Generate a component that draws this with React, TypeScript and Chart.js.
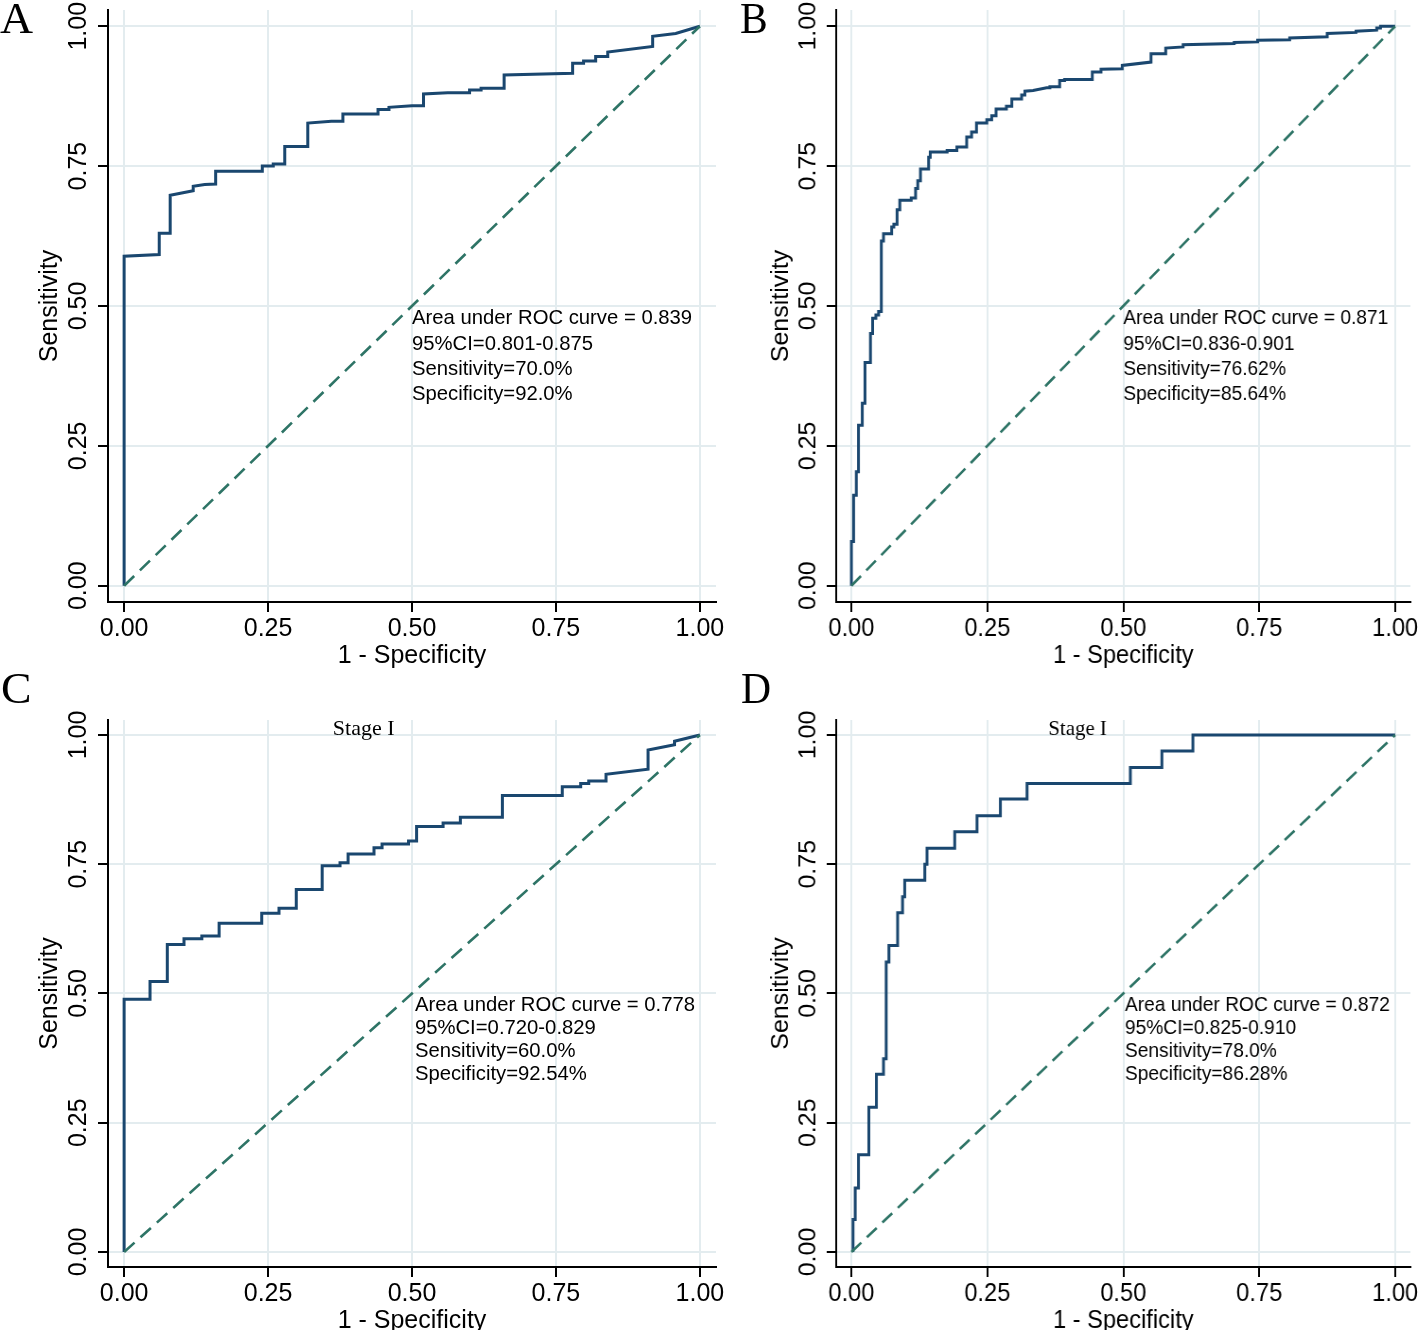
import React, { useEffect, useRef } from "react";
import { Chart, registerables } from "chart.js";

Chart.register(...registerables);

// ---- axis ticks & titles ----
const tickValues = [0, 0.25, 0.5, 0.75, 1];
const tickLabels = ["0.00", "0.25", "0.50", "0.75", "1.00"];
const xTitle = "1 - Specificity";
const yTitle = "Sensitivity";

// ---- reference (chance) line ----
const diagX = [0, 1];
const diagY = [0, 1];

// ---- Panel A ROC vertices ----
const rocAX = [0, 0, 0.061, 0.061, 0.08, 0.08, 0.1, 0.12, 0.12, 0.14, 0.159, 0.159, 0.24, 0.24, 0.259, 0.259, 0.279, 0.279, 0.319, 0.319, 0.36, 0.38, 0.38, 0.441, 0.441, 0.46, 0.46, 0.5, 0.52, 0.52, 0.562, 0.6, 0.6, 0.62, 0.62, 0.66, 0.66, 0.779, 0.779, 0.798, 0.798, 0.819, 0.819, 0.84, 0.84, 0.918, 0.918, 0.958, 1];
const rocAY = [0, 0.589, 0.592, 0.63, 0.63, 0.698, 0.702, 0.706, 0.714, 0.717, 0.718, 0.741, 0.741, 0.75, 0.75, 0.754, 0.754, 0.785, 0.785, 0.827, 0.83, 0.83, 0.843, 0.843, 0.851, 0.851, 0.855, 0.858, 0.858, 0.879, 0.881, 0.881, 0.886, 0.886, 0.889, 0.889, 0.913, 0.916, 0.934, 0.934, 0.938, 0.938, 0.946, 0.946, 0.954, 0.964, 0.982, 0.987, 1];

// ---- Panel B ROC vertices ----
const rocBX = [0, 0, 0.004, 0.004, 0.009, 0.009, 0.013, 0.013, 0.02, 0.02, 0.025, 0.025, 0.035, 0.035, 0.039, 0.039, 0.045, 0.045, 0.05, 0.05, 0.055, 0.055, 0.059, 0.059, 0.074, 0.074, 0.078, 0.078, 0.084, 0.084, 0.089, 0.089, 0.11, 0.11, 0.118, 0.118, 0.122, 0.122, 0.127, 0.127, 0.142, 0.142, 0.145, 0.145, 0.176, 0.176, 0.194, 0.194, 0.212, 0.212, 0.221, 0.221, 0.23, 0.23, 0.249, 0.249, 0.258, 0.258, 0.266, 0.266, 0.285, 0.285, 0.295, 0.295, 0.313, 0.313, 0.319, 0.319, 0.334, 0.359, 0.365, 0.365, 0.383, 0.383, 0.392, 0.392, 0.443, 0.443, 0.459, 0.459, 0.498, 0.498, 0.551, 0.551, 0.578, 0.578, 0.61, 0.61, 0.704, 0.704, 0.747, 0.747, 0.806, 0.806, 0.875, 0.875, 0.928, 0.928, 0.966, 0.966, 0.973, 0.973, 1];
const rocBY = [0, 0.079, 0.079, 0.162, 0.162, 0.204, 0.204, 0.287, 0.287, 0.326, 0.326, 0.399, 0.399, 0.451, 0.451, 0.478, 0.478, 0.484, 0.484, 0.49, 0.49, 0.616, 0.616, 0.629, 0.629, 0.641, 0.641, 0.646, 0.646, 0.672, 0.672, 0.689, 0.689, 0.693, 0.693, 0.71, 0.71, 0.724, 0.724, 0.745, 0.745, 0.766, 0.766, 0.775, 0.775, 0.778, 0.778, 0.784, 0.784, 0.802, 0.802, 0.811, 0.811, 0.827, 0.827, 0.833, 0.833, 0.84, 0.84, 0.852, 0.852, 0.857, 0.857, 0.87, 0.87, 0.877, 0.877, 0.884, 0.885, 0.89, 0.89, 0.892, 0.892, 0.903, 0.903, 0.905, 0.905, 0.918, 0.918, 0.923, 0.924, 0.93, 0.936, 0.951, 0.951, 0.961, 0.963, 0.967, 0.969, 0.971, 0.972, 0.975, 0.976, 0.979, 0.981, 0.987, 0.989, 0.991, 0.993, 0.997, 0.997, 1, 1];

// ---- Panel C ROC vertices ----
const rocCX = [0, 0, 0.045, 0.045, 0.075, 0.075, 0.104, 0.104, 0.135, 0.135, 0.165, 0.165, 0.239, 0.239, 0.269, 0.269, 0.299, 0.299, 0.344, 0.344, 0.375, 0.375, 0.389, 0.389, 0.434, 0.434, 0.448, 0.448, 0.494, 0.494, 0.508, 0.508, 0.554, 0.554, 0.584, 0.584, 0.657, 0.657, 0.761, 0.761, 0.793, 0.793, 0.807, 0.807, 0.837, 0.837, 0.91, 0.91, 0.956, 0.956, 1];
const rocCY = [0, 0.489, 0.489, 0.523, 0.523, 0.595, 0.595, 0.606, 0.606, 0.611, 0.611, 0.636, 0.636, 0.655, 0.655, 0.665, 0.665, 0.701, 0.701, 0.747, 0.747, 0.753, 0.753, 0.77, 0.77, 0.782, 0.782, 0.789, 0.789, 0.795, 0.795, 0.823, 0.823, 0.83, 0.83, 0.841, 0.841, 0.883, 0.883, 0.9, 0.9, 0.906, 0.906, 0.911, 0.911, 0.924, 0.934, 0.971, 0.981, 0.988, 1];

// ---- Panel D ROC vertices ----
const rocDX = [0.003, 0.003, 0.007, 0.007, 0.013, 0.013, 0.032, 0.032, 0.046, 0.046, 0.059, 0.059, 0.064, 0.064, 0.069, 0.069, 0.085, 0.085, 0.094, 0.094, 0.098, 0.098, 0.135, 0.135, 0.139, 0.139, 0.19, 0.19, 0.231, 0.231, 0.274, 0.274, 0.323, 0.323, 0.513, 0.513, 0.571, 0.571, 0.628, 0.628, 1];
const rocDY = [0, 0.063, 0.063, 0.124, 0.124, 0.188, 0.188, 0.28, 0.28, 0.344, 0.344, 0.374, 0.374, 0.561, 0.561, 0.593, 0.593, 0.656, 0.656, 0.687, 0.687, 0.719, 0.719, 0.75, 0.75, 0.781, 0.781, 0.813, 0.813, 0.844, 0.844, 0.876, 0.876, 0.906, 0.906, 0.937, 0.937, 0.969, 0.969, 1, 1];

// ---- annotation texts ----
const statsA = ["Area under ROC curve = 0.839", "95%CI=0.801-0.875", "Sensitivity=70.0%", "Specificity=92.0%"];
const statsB = ["Area under ROC curve = 0.871", "95%CI=0.836-0.901", "Sensitivity=76.62%", "Specificity=85.64%"];
const statsC = ["Area under ROC curve = 0.778", "95%CI=0.720-0.829", "Sensitivity=60.0%", "Specificity=92.54%"];
const statsD = ["Area under ROC curve = 0.872", "95%CI=0.825-0.910", "Sensitivity=78.0%", "Specificity=86.28%"];
const subtitleStage = "Stage I";

const SANS = '"Liberation Sans", Arial, Helvetica, sans-serif';
const SERIF = '"Liberation Serif", "Times New Roman", Times, serif';
const ROC_COLOR = "#1a476f";
const DIAG_COLOR = "#2e7466";
const GRID_COLOR = "#e3ecef";
const RIGHT_SQUEEZE = 0.946; // right-hand panels are horizontally compressed in the figure

type PanelProps = {
  rocX: number[];
  rocY: number[];
  stats: string[];
  statsX: number;
  subtitle?: string;
  left: number;
  right: number;
  top: number;
  bottom: number;
  k?: number;
};

const YW = 108; // y-axis box width
const XH = 78; // x-axis box height
const PT = 30; // canvas top padding
const PR = 25; // canvas right padding

function RocPanel(p: PanelProps) {
  const ref = useRef<HTMLCanvasElement>(null);
  const k = p.k ?? 1;
  const plotW = Math.round((p.right - p.left) / k);
  const cW = YW + plotW + PR;
  const cLeft = p.left - YW * k;
  const cTop = p.top - PT;
  const cH = p.bottom + XH - cTop;

  useEffect(() => {
    const canvas = ref.current;
    if (!canvas) return;
    const annot = {
      id: "annot",
      afterDatasetsDraw(chart: any) {
        const { ctx } = chart;
        const xs = chart.scales.x;
        const ys = chart.scales.y;
        ctx.save();
        ctx.fillStyle = "#000";
        ctx.font = `20.3px ${SANS}`;
        ctx.textAlign = "left";
        ctx.textBaseline = "middle";
        p.stats.forEach((t, i) => {
          ctx.fillText(t, xs.getPixelForValue(p.statsX), ys.getPixelForValue(0.477 - i * 0.0448));
        });
        if (p.subtitle) {
          ctx.font = `22px ${SERIF}`;
          ctx.textAlign = "center";
          ctx.fillText(p.subtitle, xs.getPixelForValue(0.416), ys.getPixelForValue(1.012));
        }
        ctx.restore();
      },
    };
    const setTicks = (scale: any) => {
      scale.ticks = tickValues.map((v) => ({ value: v }));
    };
    const chart = new Chart(canvas, {
      type: "line",
      data: {
        datasets: [
          {
            data: diagX.map((x, i) => ({ x, y: diagY[i] })),
            borderColor: DIAG_COLOR,
            borderWidth: 2.6,
            borderDash: [14, 8],
            pointRadius: 0,
            fill: false,
            tension: 0,
          },
          {
            data: p.rocX.map((x, i) => ({ x, y: p.rocY[i] })),
            borderColor: ROC_COLOR,
            borderWidth: 3,
            pointRadius: 0,
            fill: false,
            tension: 0,
          },
        ],
      },
      options: {
        responsive: false,
        animation: false,
        events: [],
        layout: { padding: { left: 0, top: PT, right: PR, bottom: 0 } },
        plugins: { legend: { display: false }, tooltip: { enabled: false } },
        scales: {
          x: {
            type: "linear",
            position: "bottom",
            min: -0.028,
            max: 1.028,
            afterBuildTicks: setTicks,
            afterFit: (s: any) => {
              s.height = XH;
            },
            grid: {
              color: GRID_COLOR,
              lineWidth: 2,
              drawTicks: true,
              tickLength: 10,
              tickColor: "#000",
              tickWidth: 2,
            },
            border: { display: true, color: "#000", width: 2 },
            ticks: {
              autoSkip: false,
              maxRotation: 0,
              minRotation: 0,
              padding: 2,
              color: "#000",
              font: { family: SANS, size: 25, lineHeight: 1.2 },
              callback: (_v: any, i: number) => tickLabels[i],
            },
            title: {
              display: true,
              text: xTitle,
              color: "#000",
              font: { family: SANS, size: 25, lineHeight: 1.2 },
              padding: { top: 0, bottom: 9 },
            },
          },
          y: {
            type: "linear",
            position: "left",
            min: -0.029,
            max: 1.029,
            afterBuildTicks: setTicks,
            afterFit: (s: any) => {
              s.width = YW;
            },
            grid: {
              color: GRID_COLOR,
              lineWidth: 2,
              drawTicks: true,
              tickLength: 10,
              tickColor: "#000",
              tickWidth: 2,
            },
            border: { display: true, color: "#000", width: 2 },
            ticks: {
              autoSkip: false,
              minRotation: 90,
              maxRotation: 90,
              crossAlign: "center",
              padding: -5,
              color: "#000",
              font: { family: SANS, size: 25, lineHeight: 1.2 },
              callback: (_v: any, i: number) => tickLabels[i],
            },
            title: {
              display: true,
              text: yTitle,
              color: "#000",
              font: { family: SANS, size: 25, lineHeight: 1.2 },
              padding: { top: 35, bottom: 0 },
            },
          },
        },
      } as any,
      plugins: [annot],
    });
    return () => chart.destroy();
  }, []);

  return (
    <canvas
      ref={ref}
      width={cW}
      height={cH}
      style={{
        position: "absolute",
        left: cLeft,
        top: cTop,
        width: cW,
        height: cH,
        transform: `scaleX(${k})`,
        transformOrigin: "0 0",
      }}
    />
  );
}

const letterStyle = (left: number, top: number, k: number): React.CSSProperties => ({
  position: "absolute",
  left,
  top,
  font: `44px ${SERIF}`,
  lineHeight: "44px",
  color: "#000",
  margin: 0,
  transform: `scaleX(${k})`,
  transformOrigin: "0 0",
});

export default function App() {
  const k = RIGHT_SQUEEZE;
  return (
    <div
      style={{
        position: "absolute",
        left: 0,
        top: 0,
        width: 1418,
        height: 1330,
        overflow: "hidden",
        background: "#fff",
      }}
    >
      <RocPanel rocX={rocAX} rocY={rocAY} stats={statsA} statsX={0.5} left={108} right={716} top={10} bottom={602} />
      <RocPanel rocX={rocBX} rocY={rocBY} stats={statsB} statsX={0.5} left={836} right={1410} top={10} bottom={602} k={k} />
      <RocPanel rocX={rocCX} rocY={rocCY} stats={statsC} statsX={0.505} subtitle={subtitleStage} left={108} right={716} top={720} bottom={1267} />
      <RocPanel rocX={rocDX} rocY={rocDY} stats={statsD} statsX={0.503} subtitle={subtitleStage} left={836} right={1410} top={720} bottom={1267} k={k} />
      <div style={letterStyle(0, -3, 1.04)}>A</div>
      <div style={letterStyle(740, -3, k)}>B</div>
      <div style={letterStyle(1, 667, 1.04)}>C</div>
      <div style={letterStyle(741, 667, k)}>D</div>
    </div>
  );
}
